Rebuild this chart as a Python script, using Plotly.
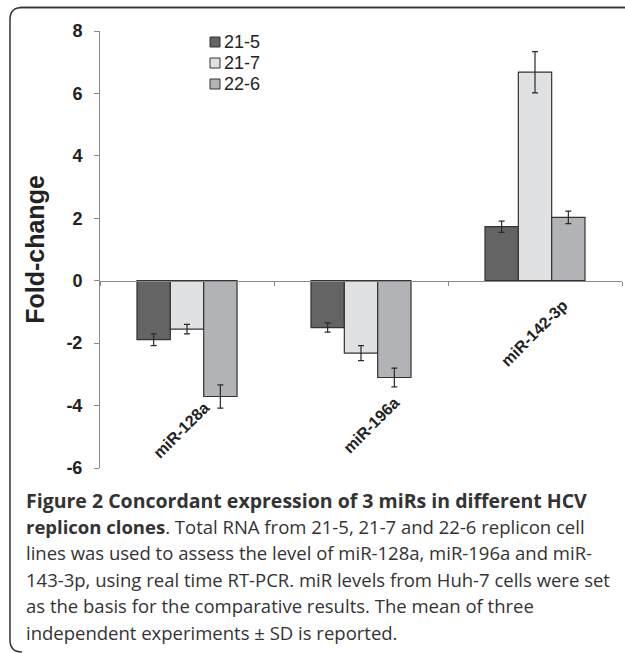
import plotly.graph_objects as go

# ---------------- data ----------------
categories = ["miR-128a", "miR-196a", "miR-142-3p"]
series_names = ["21-5", "21-7", "22-6"]
values_21_5 = [-1.89, -1.50, 1.73]
values_21_7 = [-1.55, -2.32, 6.68]
values_22_6 = [-3.71, -3.10, 2.03]
sd_21_5 = [0.19, 0.15, 0.18]
sd_21_7 = [0.15, 0.24, 0.66]
sd_22_6 = [0.37, 0.30, 0.20]
y_tick_values = [-6, -4, -2, 0, 2, 4, 6, 8]
y_tick_labels = ["-6", "-4", "-2", "0", "2", "4", "6", "8"]
y_title = "Fold-change"
caption_lines = [
    "<b>Figure 2 Concordant expression of 3 miRs in different HCV</b>",
    "<b>replicon clones</b>. Total RNA from 21-5, 21-7 and 22-6 replicon cell",
    "lines was used to assess the level of miR-128a, miR-196a and miR-",
    "143-3p, using real time RT-PCR. miR levels from Huh-7 cells were set",
    "as the basis for the comparative results. The mean of three",
    "independent experiments \u00b1 SD is reported.",
]

# ---------------- layout constants ----------------
W, H = 625, 653
L, R, T, B = 100, 622, 31, 468
colors = ["#646464", "#e0e1e3", "#b2b3b6"]
outline = "#333333"
axis_grey = "#8a8a8a"
chart_font = "Liberation Sans, Arial, sans-serif"
caption_font = "Open Sans, Noto Sans, sans-serif"


def px(x):
    return (x - L) / (R - L)


def py(y):
    return (B - y) / (B - T)


fig = go.Figure()
for name, vals, sds, col in zip(series_names,
                                [values_21_5, values_21_7, values_22_6],
                                [sd_21_5, sd_21_7, sd_22_6], colors):
    fig.add_trace(go.Bar(
        name=name, x=categories, y=vals, showlegend=False,
        marker=dict(color=col, line=dict(color=outline, width=1.2)),
        error_y=dict(type="data", array=sds, visible=True,
                     color="#2a2a2a", thickness=1.2, width=3),
    ))

annotations = []
shapes = []

# category labels, rotated, placed below the bars
label_pos = [(-3.72, 28), (-3.56, 44), (-0.42, 38)]
for cat, (yv, xs) in zip(categories, label_pos):
    annotations.append(dict(
        x=cat, y=yv, xref="x", yref="y", xshift=xs,
        text="<b>%s</b>" % cat, showarrow=False, textangle=-45,
        xanchor="right", yanchor="top",
        font=dict(family=chart_font, size=16, color="#222222"),
    ))

# legend (square swatches + text), Excel style compact spacing
leg_x, leg_y0, leg_dy, sw = 210, 42, 21, 10
for i, (name, col) in enumerate(zip(series_names, colors)):
    cy = leg_y0 + i * leg_dy
    shapes.append(dict(type="rect", xref="paper", yref="paper",
                       x0=px(leg_x), x1=px(leg_x + sw),
                       y0=py(cy + sw / 2), y1=py(cy - sw / 2),
                       fillcolor=col, line=dict(color=outline, width=1)))
    annotations.append(dict(
        x=px(leg_x + sw + 2), y=py(cy), xref="paper", yref="paper",
        text=name, showarrow=False, xanchor="left", yanchor="middle",
        font=dict(family=chart_font, size=18, color="#222222"),
    ))

# caption
base0, step = 500, 26.4
for i, line in enumerate(caption_lines):
    annotations.append(dict(
        x=px(24), y=py(base0 + i * step), xref="paper", yref="paper",
        text=line, showarrow=False, xanchor="left", yanchor="middle",
        font=dict(family=caption_font, size=19.5 if i == 0 else 18.5,
                  color="#333333"),
    ))

# rounded frame (top and left edges)
frame_path = (
    "M %f,%f L %f,%f Q %f,%f %f,%f L %f,%f Q %f,%f %f,%f" % (
        px(625), py(7.5), px(22), py(7.5), px(10), py(7.5), px(10), py(19.5),
        px(10), py(640), px(10), py(652), px(22), py(652))
)
shapes.append(dict(type="path", path=frame_path, xref="paper", yref="paper",
                   line=dict(color="#333333", width=1.5)))
shapes.append(dict(type="line", xref="paper", yref="paper",
                   x0=px(20), x1=px(625), y0=py(7.5), y1=py(7.5),
                   line=dict(color="#333333", width=1.5)))

fig.update_layout(
    width=W, height=H,
    margin=dict(l=L, r=W - R, t=T, b=H - B, pad=0),
    paper_bgcolor="white", plot_bgcolor="white",
    barmode="group", bargap=0.425, bargroupgap=0,
    font=dict(family=chart_font, color="#222222"),
    showlegend=False,
    xaxis=dict(
        range=[-0.5, 2.5], showticklabels=False, showgrid=False, zeroline=False,
        showline=True, linecolor=axis_grey, linewidth=1,
        ticks="outside", tickson="boundaries", ticklen=4, tickcolor=axis_grey,
        anchor="free", position=(0 - (-6)) / 14,
    ),
    yaxis=dict(
        range=[-6, 8], tickmode="array", tickvals=y_tick_values,
        ticktext=["<b>%s</b>" % t for t in y_tick_labels],
        showgrid=False, zeroline=False,
        showline=True, linecolor=axis_grey, linewidth=1,
        ticks="outside", ticklen=5, tickcolor=axis_grey,
        tickfont=dict(family=chart_font, size=18, color="#222222"),
        ticklabelstandoff=8,
        title=dict(text="<b>%s</b>" % y_title, standoff=14,
                   font=dict(family=chart_font, size=25, color="#222222")),
    ),
    annotations=annotations,
    shapes=shapes,
)

fig.write_html("out.html", config={"displayModeBar": False})

# remove default page margin so the figure fills the window exactly
with open("out.html", "r", encoding="utf-8") as f:
    html = f.read()
html = html.replace("<head>", "<head><style>html,body{margin:0;padding:0;overflow:hidden;}</style>", 1)
with open("out.html", "w", encoding="utf-8") as f:
    f.write(html)
